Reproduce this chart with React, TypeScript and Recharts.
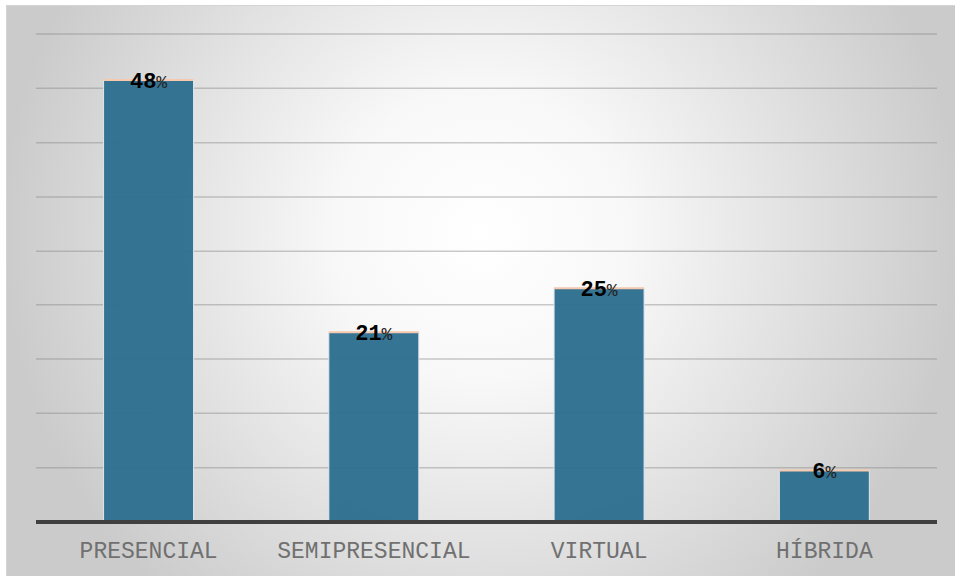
import { Bar, BarChart, CartesianGrid, LabelList, XAxis, YAxis } from 'recharts'

const modalidades = ['PRESENCIAL', 'SEMIPRESENCIAL', 'VIRTUAL', 'HÍBRIDA']
const porcentajes = [48, 20.6, 25.4, 5.6]
const gridTicks = [0, 5.9, 11.8, 17.7, 23.6, 29.4, 35.3, 41.2, 47.1, 53]

const data = modalidades.map((m, i) => ({ modalidad: m, valor: porcentajes[i] }))

const MONO = '"Liberation Mono", "Courier New", monospace'

function BarShape(props: any) {
  const { x, y, width, height } = props
  return (
    <g>
      <rect
        x={x}
        y={y}
        width={width}
        height={height}
        fill="#2f7091"
        fillOpacity={0.97}
        stroke="#dde8ee"
        strokeWidth={1}
      />
      <line x1={x} x2={x + width} y1={y} y2={y} stroke="#f6c9ae" strokeWidth={2} />
    </g>
  )
}

function ValueLabel(props: any) {
  const { x, y, width, value } = props
  return (
    <text
      x={x + width / 2}
      y={y + 8}
      textAnchor="middle"
      fontFamily={MONO}
      fontSize={22}
      fill="#000"
    >
      <tspan fontWeight="bold">{Math.round(value)}</tspan>
      <tspan fontSize={18} fill="#222">%</tspan>
    </text>
  )
}

export default function App() {
  return (
    <div
      style={{
        position: 'absolute',
        left: 6,
        top: 5,
        width: 949,
        height: 571,
        borderLeft: '1px solid #d4d4d4',
        borderTop: '1px solid #d4d4d4',
        background:
          'radial-gradient(circle at 50% 40%, #ffffff 0%, #f8f8f8 25%, #cbcbcb 82%)',
      }}
    >
      <BarChart
        width={948}
        height={570}
        data={data}
        margin={{ top: 28, right: 18, bottom: 0, left: 29 }}
        barCategoryGap="30%"
      >
        <CartesianGrid
          vertical={false}
          stroke="#8a8a8a"
          strokeOpacity={0.45}
          strokeWidth={1.5}
        />
        <YAxis hide domain={[0, 53]} ticks={gridTicks} />
        <XAxis
          dataKey="modalidad"
          height={54}
          tickLine={false}
          axisLine={{ stroke: '#404040', strokeWidth: 4 }}
          tick={{ fontFamily: MONO, fontSize: 23, fill: '#707070' }}
          dy={12}
          interval={0}
        />
        <Bar dataKey="valor" shape={BarShape} isAnimationActive={false}>
          <LabelList dataKey="valor" content={ValueLabel} />
        </Bar>
      </BarChart>
    </div>
  )
}
